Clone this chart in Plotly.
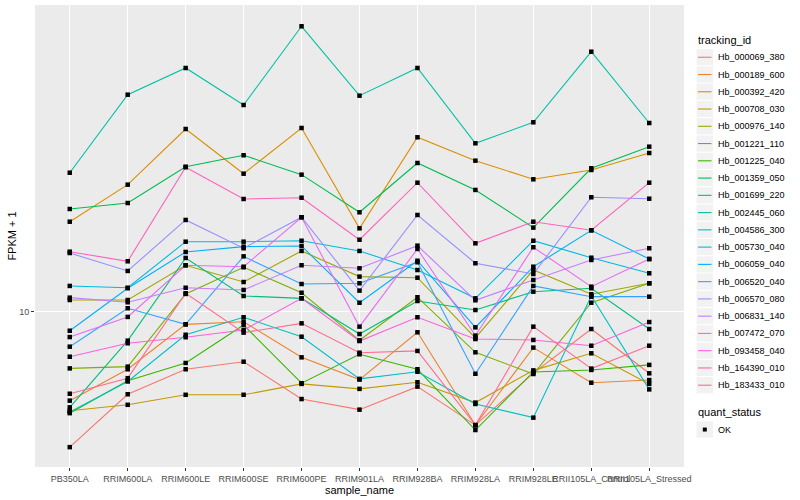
import plotly.graph_objects as go

samples = ["PB350LA", "RRIM600LA", "RRIM600LE", "RRIM600SE", "RRIM600PE", "RRIM901LA",
           "RRIM928BA", "RRIM928LA", "RRIM928LE", "RRII105LA_Control", "RRII105LA_Stressed"]

tracking_ids = ["Hb_000069_380", "Hb_000189_600", "Hb_000392_420", "Hb_000708_030",
                "Hb_000976_140", "Hb_001221_110", "Hb_001225_040", "Hb_001359_050",
                "Hb_001699_220", "Hb_002445_060", "Hb_004586_300", "Hb_005730_040",
                "Hb_006059_040", "Hb_006520_040", "Hb_006570_080", "Hb_006831_140",
                "Hb_007472_070", "Hb_093458_040", "Hb_164390_010", "Hb_183433_010"]

# FPKM + 1 per sample
hb_000069_380 = [4.11, 5.82, 6.86, 7.21, 5.64, 5.26, 6.12, 4.75, 6.69, 8.94, 6.68]
hb_000189_600 = [5.58, 6.86, 9.22, 9.38, 7.42, 6.41, 8.75, 4.75, 7.91, 6.28, 6.39]
hb_000392_420 = [18.11, 23.11, 33.33, 24.84, 33.55, 17.34, 31.56, 27.06, 23.94, 25.45, 28.46]
hb_000708_030 = [5.22, 5.43, 5.80, 5.80, 6.23, 6.03, 6.30, 5.51, 6.81, 7.62, 6.23]
hb_000976_140 = [10.82, 10.82, 13.60, 12.18, 14.94, 12.62, 12.53, 8.43, 13.18, 11.24, 12.08]
hb_001221_110 = [6.90, 6.98, 11.26, 13.42, 11.35, 8.30, 11.02, 7.67, 6.65, 10.63, 12.08]
hb_001225_040 = [5.14, 6.36, 7.15, 9.18, 6.26, 7.57, 6.86, 4.60, 6.74, 6.83, 7.06]
hb_001359_050 = [19.69, 20.48, 26.01, 28.04, 24.68, 19.27, 26.65, 22.32, 17.42, 25.74, 29.67]
hb_001699_220 = [5.34, 8.28, 14.27, 11.11, 10.94, 8.65, 10.75, 10.13, 11.43, 11.69, 8.94]
hb_002445_060 = [25.00, 41.77, 49.79, 39.03, 65.51, 41.50, 49.79, 30.34, 34.83, 55.42, 34.67]
hb_004586_300 = [5.18, 6.33, 8.61, 9.66, 8.50, 6.44, 6.75, 5.46, 4.99, 11.11, 6.01]
hb_005730_040 = [11.87, 11.73, 15.88, 15.88, 15.98, 14.94, 13.18, 10.94, 15.98, 14.29, 12.90]
hb_006059_040 = [8.84, 11.69, 14.84, 15.37, 15.44, 10.63, 14.01, 9.04, 13.47, 17.12, 14.17]
hb_006520_040 = [7.96, 10.25, 9.22, 14.42, 12.02, 12.08, 13.87, 6.66, 11.87, 11.06, 11.06]
hb_006570_080 = [14.74, 13.10, 18.32, 15.21, 18.65, 11.51, 18.93, 13.78, 12.84, 21.27, 21.07]
hb_006831_140 = [10.99, 10.66, 11.73, 11.56, 13.60, 13.33, 15.47, 10.80, 12.34, 14.08, 15.21]
hb_007472_070 = [8.48, 9.68, 13.60, 13.47, 18.65, 9.08, 15.14, 8.56, 15.31, 11.81, 14.17]
hb_093458_040 = [7.45, 8.14, 8.47, 8.88, 10.94, 8.26, 9.66, 8.37, 8.32, 8.01, 9.36]
hb_164390_010 = [14.87, 13.96, 25.91, 21.03, 21.21, 16.09, 23.41, 15.71, 18.11, 17.12, 23.41]
hb_183433_010 = [5.84, 6.47, 11.31, 8.73, 9.28, 7.65, 7.74, 4.75, 9.08, 6.89, 8.01]

quant_status = ["OK"]

series = [hb_000069_380, hb_000189_600, hb_000392_420, hb_000708_030, hb_000976_140,
          hb_001221_110, hb_001225_040, hb_001359_050, hb_001699_220, hb_002445_060,
          hb_004586_300, hb_005730_040, hb_006059_040, hb_006520_040, hb_006570_080,
          hb_006831_140, hb_007472_070, hb_093458_040, hb_164390_010, hb_183433_010]

palette = ["#F8766D", "#EA8331", "#D89000", "#C09B00", "#A3A500", "#7CAE00", "#39B600",
           "#00BB4E", "#00BF7D", "#00C1A3", "#00BFC4", "#00BAE0", "#00B0F6", "#35A2FF",
           "#9590FF", "#C77CFF", "#E76BF3", "#FA62DB", "#FF62BC", "#FF6C91"]

FONT = "Liberation Sans, Arial, sans-serif"
W, H = 800, 500
ML, MR, MT, MB = 35, 116, 5, 32.5
PW, PH = W - ML - MR, H - MT - MB


def px(x):
    return (x - ML) / PW


def py(y):
    return (H - MB - y) / PH


fig = go.Figure()
for tid, vals, col in zip(tracking_ids, series, palette):
    fig.add_trace(go.Scatter(
        x=samples, y=vals, mode="lines", name=tid,
        line=dict(color=col, width=1.1), showlegend=False, hoverinfo="skip"))

all_x = [s for vals in series for s in samples]
all_y = [v for vals in series for v in vals]
fig.add_trace(go.Scatter(
    x=all_x, y=all_y, mode="markers", name=quant_status[0], showlegend=False,
    marker=dict(color="black", size=4.5, symbol="square")))

# ggplot-style legend drawn with shapes and text
shapes = []
annotations = []
annotations.append(dict(text="tracking_id", x=px(696), y=py(40.5), xref="paper", yref="paper",
                        xanchor="left", yanchor="middle", showarrow=False,
                        font=dict(size=11, color="black")))
row0, step = 57.3, 17.28
for i, (tid, col) in enumerate(zip(tracking_ids, palette)):
    cy = row0 + i * step
    shapes.append(dict(type="rect", xref="paper", yref="paper",
                       x0=px(696.5), x1=px(713), y0=py(cy - 8.1), y1=py(cy + 8.1),
                       fillcolor="#F2F2F2", line=dict(width=0), layer="above"))
    shapes.append(dict(type="line", xref="paper", yref="paper",
                       x0=px(698), x1=px(711.5), y0=py(cy), y1=py(cy),
                       line=dict(color=col, width=1.1), layer="above"))
    annotations.append(dict(text=tid, x=px(716), y=py(cy), xref="paper", yref="paper",
                            xanchor="left", yanchor="middle", showarrow=False,
                            font=dict(size=9, color="black")))

annotations.append(dict(text="quant_status", x=px(696), y=py(412.5), xref="paper", yref="paper",
                        xanchor="left", yanchor="middle", showarrow=False,
                        font=dict(size=11, color="black")))
ok_y = 430
shapes.append(dict(type="rect", xref="paper", yref="paper",
                   x0=px(696.5), x1=px(713), y0=py(ok_y - 8.1), y1=py(ok_y + 8.1),
                   fillcolor="#F2F2F2", line=dict(width=0), layer="above"))
shapes.append(dict(type="rect", xref="paper", yref="paper",
                   x0=px(702.8), x1=px(706.8), y0=py(ok_y - 2), y1=py(ok_y + 2),
                   fillcolor="black", line=dict(width=0), layer="above"))
annotations.append(dict(text=quant_status[0], x=px(716), y=py(ok_y), xref="paper", yref="paper",
                        xanchor="left", yanchor="middle", showarrow=False,
                        font=dict(size=9, color="black")))

fig.update_layout(
    width=W, height=H,
    margin=dict(l=ML, r=MR, t=MT, b=MB),
    paper_bgcolor="white",
    plot_bgcolor="#EBEBEB",
    font=dict(family=FONT, size=9, color="#4D4D4D"),
    showlegend=False,
    shapes=shapes,
    annotations=annotations,
    xaxis=dict(type="category", categoryorder="array", categoryarray=samples,
               range=[-0.6, 10.6], showgrid=True, gridcolor="white", gridwidth=1.1,
               zeroline=False, showline=False, ticks="outside", ticklen=3,
               tickcolor="#333333", tickangle=0,
               tickfont=dict(size=9, color="#4D4D4D"),
               title=dict(text="sample_name", font=dict(size=11, color="black"), standoff=1)),
    yaxis=dict(type="log", range=[0.5571, 1.8771], tickvals=[10], ticktext=["10"],
               showgrid=True, gridcolor="white", gridwidth=1.1, zeroline=False,
               showline=False, ticks="outside", ticklen=3, tickcolor="#333333",
               tickfont=dict(size=9, color="#4D4D4D"),
               title=dict(text="FPKM + 1", font=dict(size=11, color="black"), standoff=0)),
)

fig.write_html("out.html", config={"displayModeBar": False},
               post_script="document.body.style.margin='0';")
